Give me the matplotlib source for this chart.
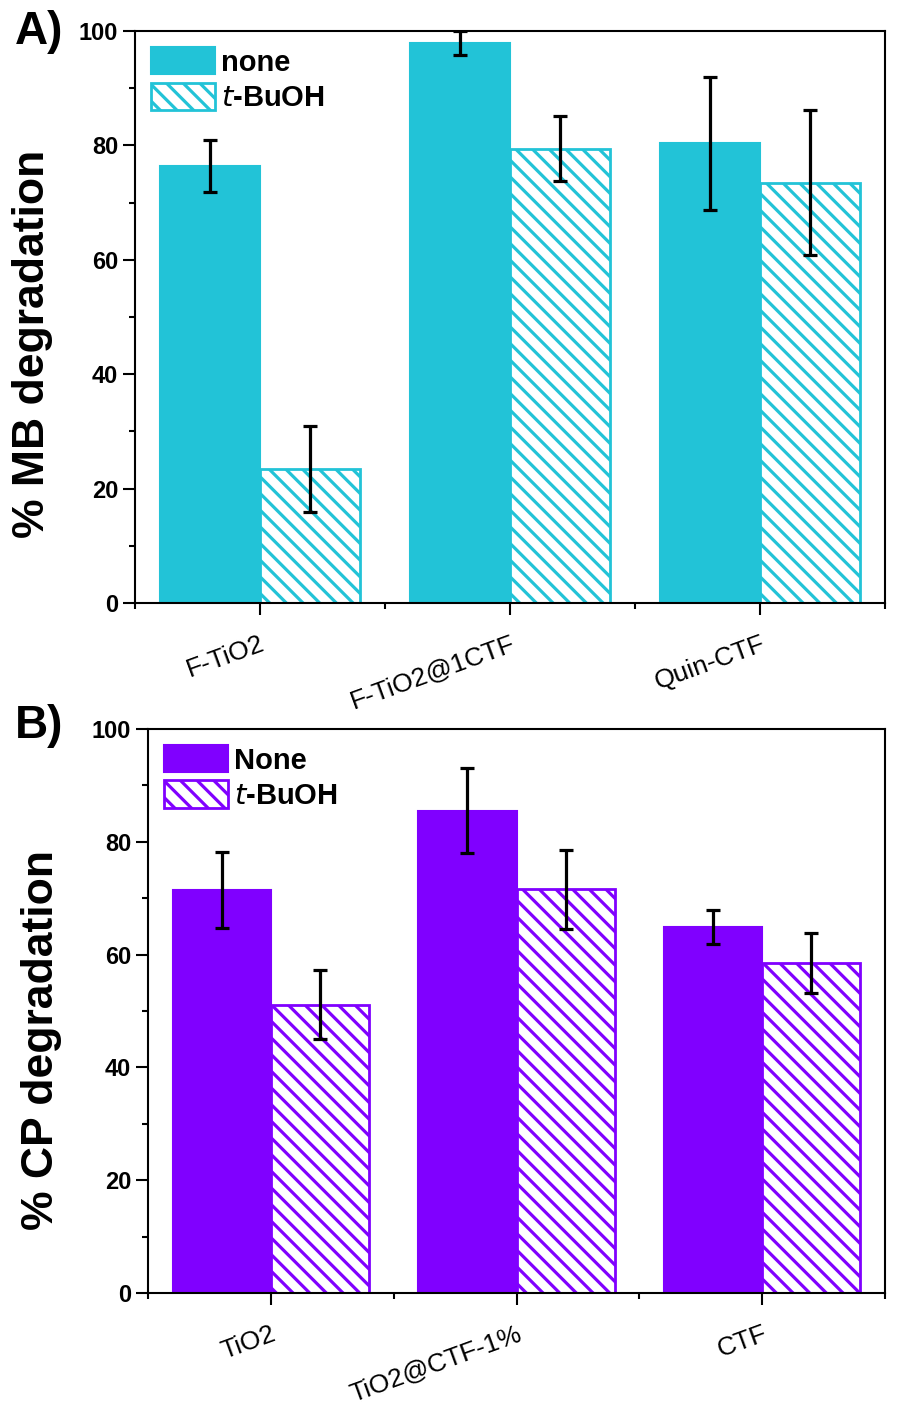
import numpy as np
import matplotlib
matplotlib.use("Agg")
import matplotlib.pyplot as plt

# panel A: MB degradation
cats_a = ["F-TiO2", "F-TiO2@1CTF", "Quin-CTF"]
none_a = [76.4, 97.9, 80.4]
none_a_err = [4.6, 2.1, 11.6]
tbuoh_a = [23.4, 79.4, 73.5]
tbuoh_a_err = [7.5, 5.7, 12.7]

# panel B: CP degradation
cats_b = ["TiO2", "TiO2@CTF-1%", "CTF"]
none_b = [71.5, 85.5, 64.9]
none_b_err = [6.7, 7.5, 3.0]
tbuoh_b = [51.1, 71.6, 58.5]
tbuoh_b_err = [6.1, 7.0, 5.3]

cyan = "#22c3d7"
purple = "#8000ff"

plt.rcParams['font.family'] = ['Liberation Sans', 'DejaVu Sans']
plt.rcParams['hatch.linewidth'] = 2.3

fig = plt.figure(figsize=(9.01, 14.06), dpi=100)
ax_a = fig.add_axes([0.1498, 0.5711, 0.8324, 0.4068])
ax_b = fig.add_axes([0.1643, 0.0804, 0.8180, 0.4011])


def panel(ax, cats, v1, e1, v2, e2, color, ylabel, lab1, ylab_x, ylab_y):
    x = np.arange(1, len(cats) + 1)
    w = 0.4
    ax.bar(x - w / 2, v1, w, color=color, edgecolor=color, linewidth=1.5, label=lab1)
    ax.bar(x + w / 2, v2, w, color="white", edgecolor=color, hatch="\\\\", linewidth=2,
           label="$\\mathit{t}$-BuOH")
    ax.errorbar(x - w / 2, v1, yerr=e1, fmt="none", ecolor="black", elinewidth=2.3,
                capsize=5, capthick=2.3)
    ax.errorbar(x + w / 2, v2, yerr=e2, fmt="none", ecolor="black", elinewidth=2.3,
                capsize=5, capthick=2.3)

    ax.set_xlim(0.5, len(cats) + 0.5)
    ax.set_ylim(0, 100)
    ax.set_xticks(x)
    ax.set_xticks(np.arange(0.5, len(cats) + 1, 1), minor=True)
    ax.set_xticklabels(cats, rotation=20, ha="right", va="top", rotation_mode="anchor",
                       fontsize=19)
    ax.set_yticks(np.arange(0, 101, 20))
    ax.set_yticks(np.arange(10, 100, 20), minor=True)
    ax.tick_params(axis="both", which="major", direction="out", length=8.5, width=1.5,
                   labelsize=17)
    ax.tick_params(axis="both", which="minor", direction="out", length=4.5, width=1.5)
    ax.tick_params(axis="x", which="major", labelsize=19, pad=12)
    for lab in ax.get_yticklabels():
        lab.set_fontweight("bold")
    for s in ax.spines.values():
        s.set_linewidth(1.5)

    ax.set_ylabel(ylabel, fontsize=32, fontweight="bold")
    ax.yaxis.set_label_coords(ylab_x, ylab_y)

    leg = ax.legend(loc="upper left", frameon=False, fontsize=21, handlelength=2.2,
                    handleheight=1.06, borderaxespad=0.25, handletextpad=0.2,
                    labelspacing=0.2, borderpad=0.3)
    for t in leg.get_texts():
        t.set_fontweight("bold")


panel(ax_a, cats_a, none_a, none_a_err, tbuoh_a, tbuoh_a_err, cyan,
      "% MB degradation", "none", -0.109, 0.453)
panel(ax_b, cats_b, none_b, none_b_err, tbuoh_b, tbuoh_b_err, purple,
      "% CP degradation", "None", -0.117, 0.449)

fig.text(0.016, 1 - 32 / 1406, "A)", fontsize=33, fontweight="bold", va="center")
fig.text(0.017, 1 - 726 / 1406, "B)", fontsize=33, fontweight="bold", va="center")

fig.savefig("out.png", dpi=100)
